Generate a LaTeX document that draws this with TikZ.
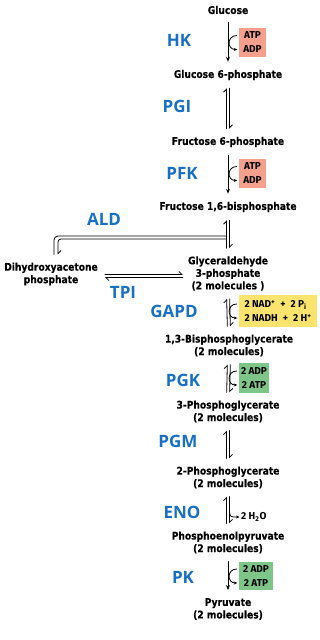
\documentclass[tikz,border=0pt]{standalone}
\usepackage{fontspec}
\setmainfont{DejaVu Sans}
\newfontfamily\cpdfont{DejaVu Sans}[UprightFont={* Bold}, FakeStretch=0.87, FakeBold=0.4]
\newfontfamily\enzfont{Open Sans}
\newfontfamily\cofont{Fira Sans}
\usetikzlibrary{arrows.meta}
\definecolor{enzblue}{RGB}{24,112,196}
\definecolor{atppink}{RGB}{245,160,140}
\definecolor{nadyellow}{RGB}{250,228,110}
\definecolor{adpgreen}{RGB}{125,198,135}
\tikzset{
	cpd/.style={align=center, inner sep=1pt, font=\cpdfont\fontsize{10.5}{12.5}\selectfont},
	enz/.style={inner sep=0pt, text=enzblue, font=\enzfont\fontsize{17}{17}\selectfont\bfseries},
	cofac/.style={align=center, inner sep=0pt, font=\cofont\fontsize{10}{14}\selectfont\bfseries},
	fwd/.style={-{Stealth[length=5pt,width=4pt]}, line width=0.9pt, shorten <=7pt, shorten >=7pt},
	half/.style={-{Straight Barb[harpoon,length=3pt,width=6pt]}, line width=0.8pt, shorten <=7pt, shorten >=7pt},
	hook/.style={-{Stealth[length=3.5pt,width=3pt]}, line width=0.8pt, shorten <=2pt, shorten >=1.5pt}
}
\begin{document}
\begin{tikzpicture}[x=1pt, y=1pt, line cap=round, line join=round]
	\useasboundingbox (0,0) rectangle (319,-640);
	
	\node[cpd] (glc) at (228,-10) {Glucose};
	\node[cpd] (g6p) at (228,-75) {Glucose 6-phosphate};
	\node[cpd] (f6p) at (228,-142) {Fructose 6-phosphate};
	\node[cpd] (fbp) at (228,-207) {Fructose 1,6-bisphosphate};
	\node[cpd] (gap) at (228,-273.5) {Glyceraldehyde\\3-phosphate\\(2 molecules )};
	\node[cpd] (dhap) at (51,-274) {Dihydroxyacetone\\phosphate};
	\node[cpd] (bpg) at (229,-345.5) {1,3-Bisphosphoglycerate\\(2 molecules)};
	\node[cpd] (pg3) at (228,-411.5) {3-Phosphoglycerate\\(2 molecules)};
	\node[cpd] (pg2) at (228,-477.5) {2-Phosphoglycerate\\(2 molecules)};
	\node[cpd] (pep) at (228,-542.5) {Phosphoenolpyruvate\\(2 molecules)};
	\node[cpd] (pyr) at (228,-609) {Pyruvate\\(2 molecules)};
	
	\node[enz] (hk) at (179,-40) {HK};
	\node[enz] (pgi) at (177,-106) {PGI};
	\node[enz] (pfk) at (182,-173) {PFK};
	\node[enz] (ald) at (104,-219) {ALD};
	\node[enz] (tpi) at (123,-292) {TPI};
	\node[enz] (gapd) at (174,-311) {GAPD};
	\node[enz] (pgk) at (183,-380) {PGK};
	\node[enz] (pgm) at (178,-441) {PGM};
	\node[enz] (eno) at (182,-512) {ENO};
	\node[enz] (pk) at (183,-577) {PK};
	
	\node[cofac, fill=atppink, minimum width=27pt, minimum height=29pt] (hkbox) at (252.5,-42.5) {ATP\\ADP};
	\node[cofac, fill=atppink, minimum width=27pt, minimum height=29pt] (pfkbox) at (252.5,-173.5) {ATP\\ADP};
	\node[cofac, fill=nadyellow, align=left, minimum width=78pt, minimum height=32pt] (gapdbox) at (278,-311)
		{2 NAD\textsuperscript{+}\enspace+\enspace2 P\textsubscript{i}\\2 NADH\enspace+\enspace2 H\textsuperscript{+}};
	\node[cofac, fill=adpgreen, minimum width=30pt, minimum height=30pt] (pgkbox) at (254,-378) {2 ADP\\2 ATP};
	\node[cofac, fill=adpgreen, minimum width=34pt, minimum height=28pt] (pkbox) at (256,-576) {2 ADP\\2 ATP};
	\node[cofac, anchor=west] (h2o) at (241,-517) {2 H\textsubscript{2}O};
	
	\foreach \a/\b in {glc/g6p, f6p/fbp, pep/pyr}
		\draw[fwd] (\a) -- (\b);
	\foreach \a/\b in {g6p/f6p, fbp/gap, gap/bpg, bpg/pg3, pg3/pg2, pg2/pep} {
		\draw[half] ([xshift=-1.5pt]\b.north) -- ([xshift=-1.5pt]\a.south);
		\draw[half] ([xshift=1.5pt]\a.south) -- ([xshift=1.5pt]\b.north);
	}
	
	\foreach \u in {hkbox, pfkbox, gapdbox, pgkbox, pkbox}
		\draw[hook] ([yshift=7pt]\u.west) .. controls +(-12,0) and +(-12,0) .. ([yshift=-7pt]\u.west);
	\coordinate (enofork) at (229.5,-511);
	\draw[hook, shorten <=0pt] (enofork) .. controls (230,-517) .. (h2o.west);
	
	\coordinate (fork) at (226.5,-237.5);
	\draw[line width=0.8pt, rounded corners=4pt, shorten >=7pt] ([yshift=1.5pt]fork) -| ([xshift=3pt]dhap.north);
	\draw[half, rounded corners=3pt, shorten <=0pt] ([yshift=-1.5pt]fork) -| ([xshift=7pt]dhap.north);
	
	\draw[half, shorten <=6pt, shorten >=4pt] ([yshift=-0.5pt]dhap.east) -- ([yshift=-0.5pt]dhap.east -| gap.west);
	\draw[half, shorten <=4pt, shorten >=6pt] ([yshift=-3.5pt]dhap.east -| gap.west) -- ([yshift=-3.5pt]dhap.east);
\end{tikzpicture}
\end{document}
